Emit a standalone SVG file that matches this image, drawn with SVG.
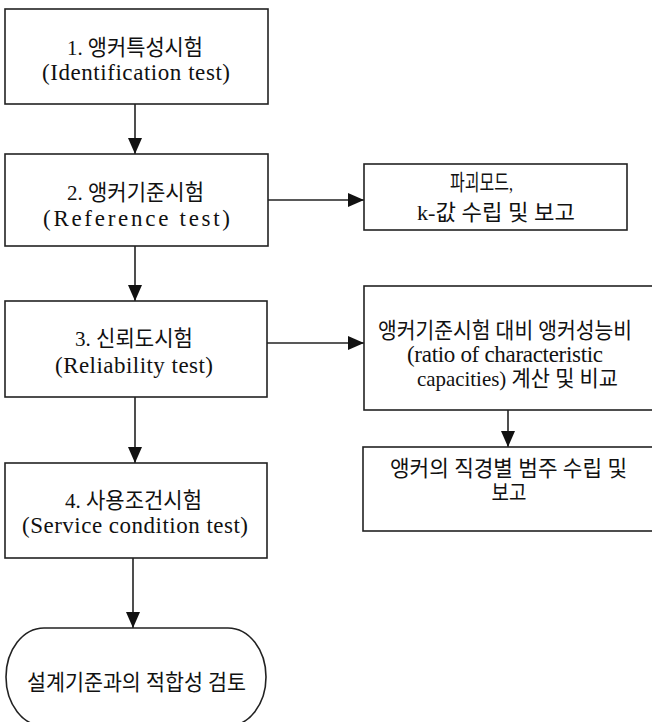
<svg xmlns="http://www.w3.org/2000/svg" width="652" height="722" viewBox="0 0 652 722">
<style>
.box{fill:#fff;stroke:#222;stroke-width:1.6}
.ko{font-family:"Liberation Serif","Noto Sans CJK KR",serif;font-size:22px;fill:#111;text-anchor:middle}
.en{font-family:"Liberation Serif","Noto Sans CJK KR",serif;font-size:23px;fill:#111;text-anchor:middle}
.mx{font-family:"Liberation Serif","Noto Sans CJK KR",serif;font-size:22px;fill:#111;text-anchor:middle}
.con{fill:none;stroke:#222;stroke-width:1.6}
</style>
<defs>
<marker id="ah" markerUnits="userSpaceOnUse" markerWidth="16" markerHeight="14" refX="16" refY="7" orient="auto">
<path d="M0,0 L16,7 L0,14 z" fill="#111"/>
</marker>
</defs>
<rect x="0" y="0" width="652" height="722" fill="#fff"/>
<g id="connectors">
<line class="con" x1="135" y1="104" x2="135" y2="154" marker-end="url(#ah)"/>
<line class="con" x1="135" y1="246" x2="135" y2="301" marker-end="url(#ah)"/>
<line class="con" x1="135" y1="397" x2="135" y2="463" marker-end="url(#ah)"/>
<line class="con" x1="133" y1="558" x2="133" y2="628" marker-end="url(#ah)"/>
<line class="con" x1="268" y1="200" x2="364" y2="200" marker-end="url(#ah)"/>
<line class="con" x1="267" y1="343" x2="364" y2="343" marker-end="url(#ah)"/>
<line class="con" x1="508" y1="410" x2="508" y2="447" marker-end="url(#ah)"/>
</g>
<g id="n1">
<rect class="box" x="5" y="9" width="263" height="95"/>
<text class="ko" x="135" y="55" textLength="136" lengthAdjust="spacingAndGlyphs">1. 앵커특성시험</text>
<text class="en" x="136" y="80" textLength="188" lengthAdjust="spacing">(Identification test)</text>
</g>
<g id="n2">
<rect class="box" x="5" y="154" width="263" height="92"/>
<text class="ko" x="135.5" y="200" textLength="137" lengthAdjust="spacingAndGlyphs">2. 앵커기준시험</text>
<text class="en" x="136.5" y="225.5" textLength="187" lengthAdjust="spacing">(Reference test)</text>
</g>
<g id="n3">
<rect class="box" x="5" y="301" width="262" height="96"/>
<text class="ko" x="134" y="345.5" textLength="118" lengthAdjust="spacingAndGlyphs">3. 신뢰도시험</text>
<text class="en" x="134" y="373" textLength="158" lengthAdjust="spacing">(Reliability test)</text>
</g>
<g id="n4">
<rect class="box" x="5" y="463" width="262" height="95"/>
<text class="ko" x="133.5" y="507.5" textLength="137" lengthAdjust="spacingAndGlyphs">4. 사용조건시험</text>
<text class="en" x="135" y="533" textLength="226" lengthAdjust="spacing">(Service condition test)</text>
</g>
<g id="nA">
<rect class="box" x="364" y="164" width="263" height="66"/>
<text class="ko" x="481.5" y="190" textLength="63" lengthAdjust="spacingAndGlyphs">파괴모드,</text>
<text class="mx" x="496" y="220" textLength="158" lengthAdjust="spacingAndGlyphs">k-값 수립 및 보고</text>
</g>
<g id="nB">
<rect class="box" x="364" y="286" width="300" height="124"/>
<text class="ko" x="505" y="338" textLength="254" lengthAdjust="spacingAndGlyphs">앵커기준시험 대비 앵커성능비</text>
<text class="en" x="505" y="362" textLength="196" lengthAdjust="spacing">(ratio of characteristic</text>
<text class="mx" x="517.5" y="385.5" textLength="201" lengthAdjust="spacingAndGlyphs">capacities) 계산 및 비교</text>
</g>
<g id="nC">
<rect class="box" x="363" y="447" width="300" height="84"/>
<text class="ko" x="508.5" y="476" textLength="237" lengthAdjust="spacingAndGlyphs">앵커의 직경별 범주 수립 및</text>
<text class="ko" x="509" y="500" textLength="35" lengthAdjust="spacingAndGlyphs">보고</text>
</g>
<g id="nEnd">
<rect class="box" x="6" y="628" width="260" height="98" rx="38" ry="49"/>
<text class="ko" x="136.5" y="690" textLength="219" lengthAdjust="spacingAndGlyphs">설계기준과의 적합성 검토</text>
</g>
</svg>
